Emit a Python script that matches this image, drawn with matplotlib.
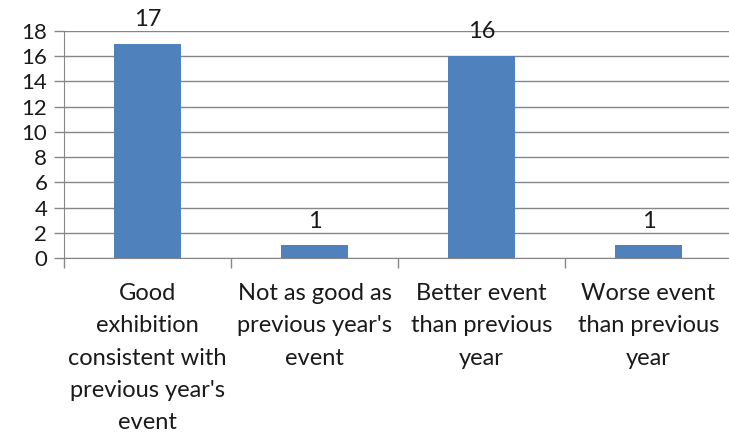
import matplotlib.pyplot as plt

categories = [
    "Good\nexhibition\nconsistent with\nprevious year's\nevent",
    "Not as good as\nprevious year's\nevent",
    "Better event\nthan previous\nyear",
    "Worse event\nthan previous\nyear",
]
counts = [17, 1, 16, 1]
yticks = [0, 2, 4, 6, 8, 10, 12, 14, 16, 18]

plt.rcParams['font.family'] = ['Lato', 'DejaVu Sans']
grid_col = "#868686"

fig = plt.figure(figsize=(7.29, 4.36), dpi=100)
ax = fig.add_axes([64 / 729, 178 / 436, 668 / 729, 227 / 436])

x = list(range(len(counts)))
ax.bar(x, counts, width=0.4, color="#4F81BD", zorder=3)
for xi, v in zip(x, counts):
    ax.text(xi, v + 1.1, str(v), ha="center", va="bottom", fontsize=17, color="#1a1a1a")

ax.set_xlim(-0.5, 3.5)
ax.set_ylim(0, 18)
ax.set_yticks(yticks)
ax.set_yticklabels([str(t) for t in yticks], fontsize=16, color="#1a1a1a")
ax.yaxis.grid(True, color=grid_col, linewidth=1, zorder=0)

# category separators as ticks
ax.set_xticks([-0.5, 0.5, 1.5, 2.5, 3.5])
ax.set_xticklabels([])
ax.tick_params(axis="x", length=7, color=grid_col, width=1)
ax.tick_params(axis="y", length=7, color=grid_col, width=1, pad=5)
for xi, lab in zip(x, categories):
    ax.text(xi, -2.0, lab, ha="center", va="top", fontsize=17,
            linespacing=1.66, color="#1a1a1a")

for s in ["top", "right"]:
    ax.spines[s].set_visible(False)
for s in ["left", "bottom"]:
    ax.spines[s].set_color(grid_col)

fig.savefig("out.png", dpi=100)
